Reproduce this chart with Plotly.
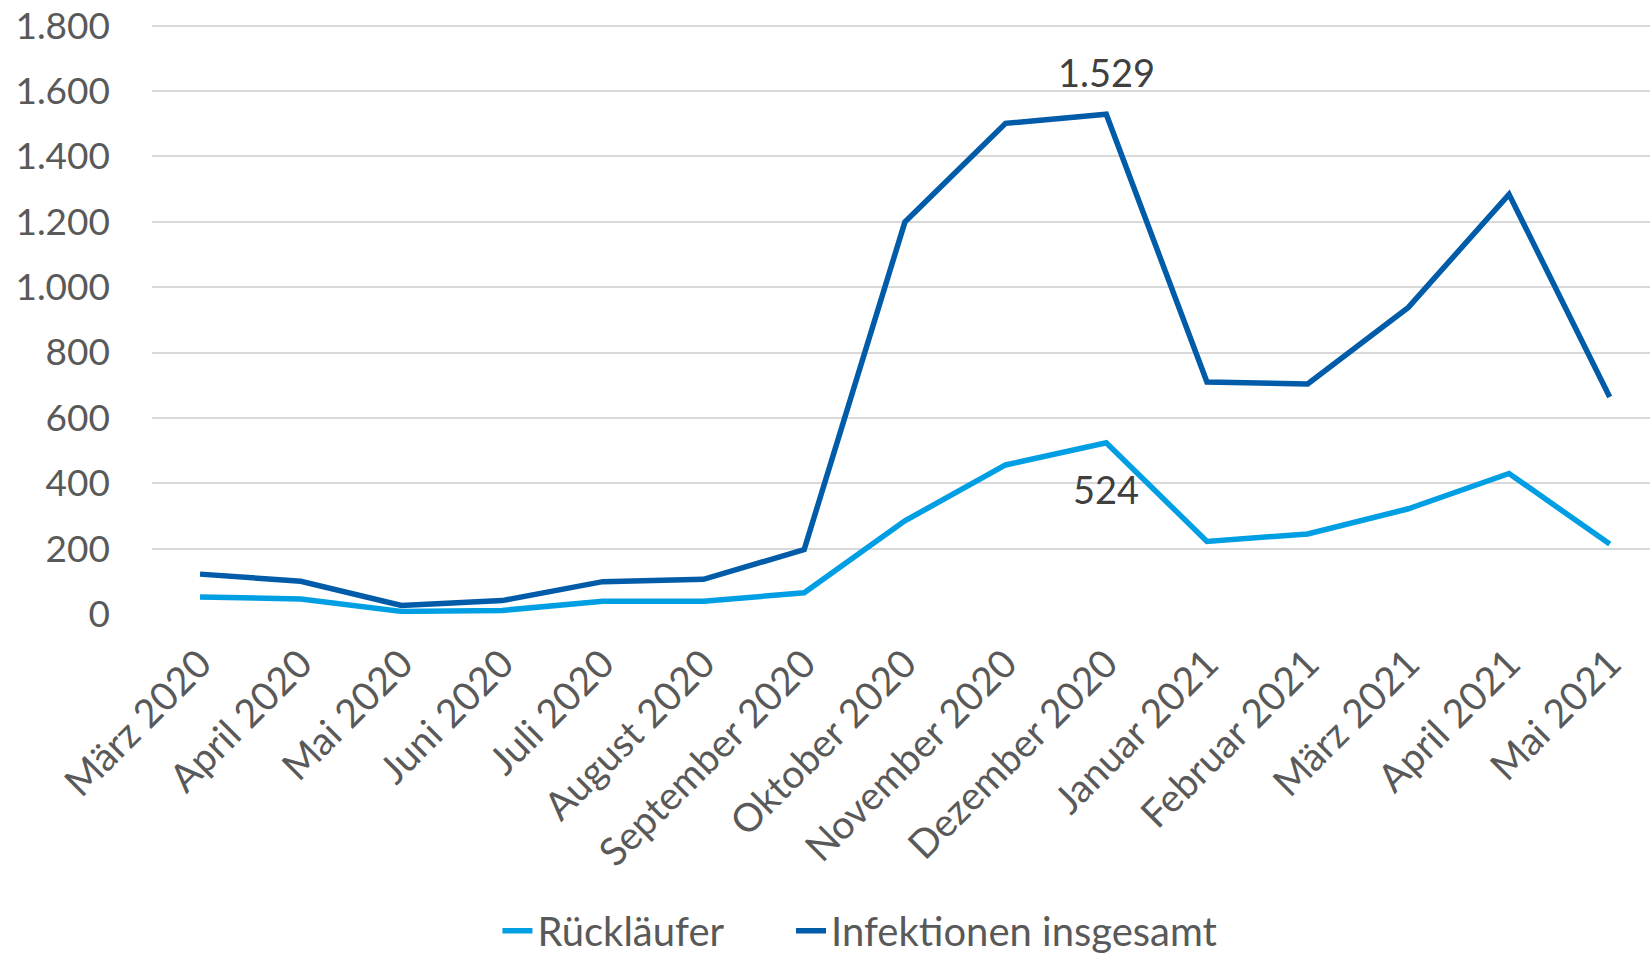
import plotly.graph_objects as go

months = ["März 2020", "April 2020", "Mai 2020", "Juni 2020", "Juli 2020", "August 2020",
          "September 2020", "Oktober 2020", "November 2020", "Dezember 2020", "Januar 2021",
          "Februar 2021", "März 2021", "April 2021", "Mai 2021"]
ruecklaeufer = [52, 46, 8, 11, 39, 39, 65, 285, 456, 524, 222, 245, 322, 430, 214]
infektionen = [122, 100, 26, 41, 99, 106, 197, 1199, 1501, 1529, 710, 704, 938, 1284, 664]
ytick_vals = [0, 200, 400, 600, 800, 1000, 1200, 1400, 1600, 1800]
ytick_text = ["0", "200", "400", "600", "800", "1.000", "1.200", "1.400", "1.600", "1.800"]

FONT = "Lato"
GREY = "#595959"

fig = go.Figure()
fig.add_trace(go.Scatter(x=list(range(len(months))), y=ruecklaeufer, mode="lines",
                         name="Rückläufer", line=dict(color="#009FE3", width=5.5),
                         legend="legend"))
fig.add_trace(go.Scatter(x=list(range(len(months))), y=infektionen, mode="lines",
                         name="Infektionen insgesamt", line=dict(color="#005CA9", width=5.5),
                         legend="legend2"))

peak = 9
fig.add_annotation(x=peak, y=infektionen[peak], text="1.529", showarrow=False,
                   yshift=42, font=dict(family=FONT, size=38, color="#404040"))
fig.add_annotation(x=peak, y=ruecklaeufer[peak], text="524", showarrow=False,
                   yshift=-46, font=dict(family=FONT, size=38, color="#404040"))

legend_common = dict(orientation="h", yanchor="middle", y=-0.537, xanchor="left",
                     font=dict(family=FONT, size=40, color=GREY),
                     bgcolor="rgba(0,0,0,0)", borderwidth=0)

fig.update_layout(
    width=1650, height=954,
    margin=dict(l=152, r=0, t=24, b=340, autoexpand=False),
    plot_bgcolor="white", paper_bgcolor="white",
    font=dict(family=FONT, color=GREY),
    xaxis=dict(range=[-0.477, 14.4], tickmode="array", tickvals=list(range(len(months))),
               ticktext=months, tickangle=-45, tickfont=dict(size=39, color=GREY),
               showgrid=False, zeroline=False, showline=False, ticks="",
               automargin=False, ticklabelstandoff=18),
    yaxis=dict(range=[0, 1805], tickmode="array", tickvals=ytick_vals, ticktext=ytick_text,
               tickfont=dict(size=37, color=GREY), showgrid=True, gridcolor="#D9D9D9",
               gridwidth=2, zeroline=False, showline=False, ticks="",
               automargin=False, ticklabelstandoff=41),
    showlegend=True,
    legend=dict(x=0.2306, **legend_common),
    legend2=dict(x=0.4266, **legend_common),
)

fig.write_html("out.html", config={"displayModeBar": False},
               post_script="document.body.style.margin='0';")
